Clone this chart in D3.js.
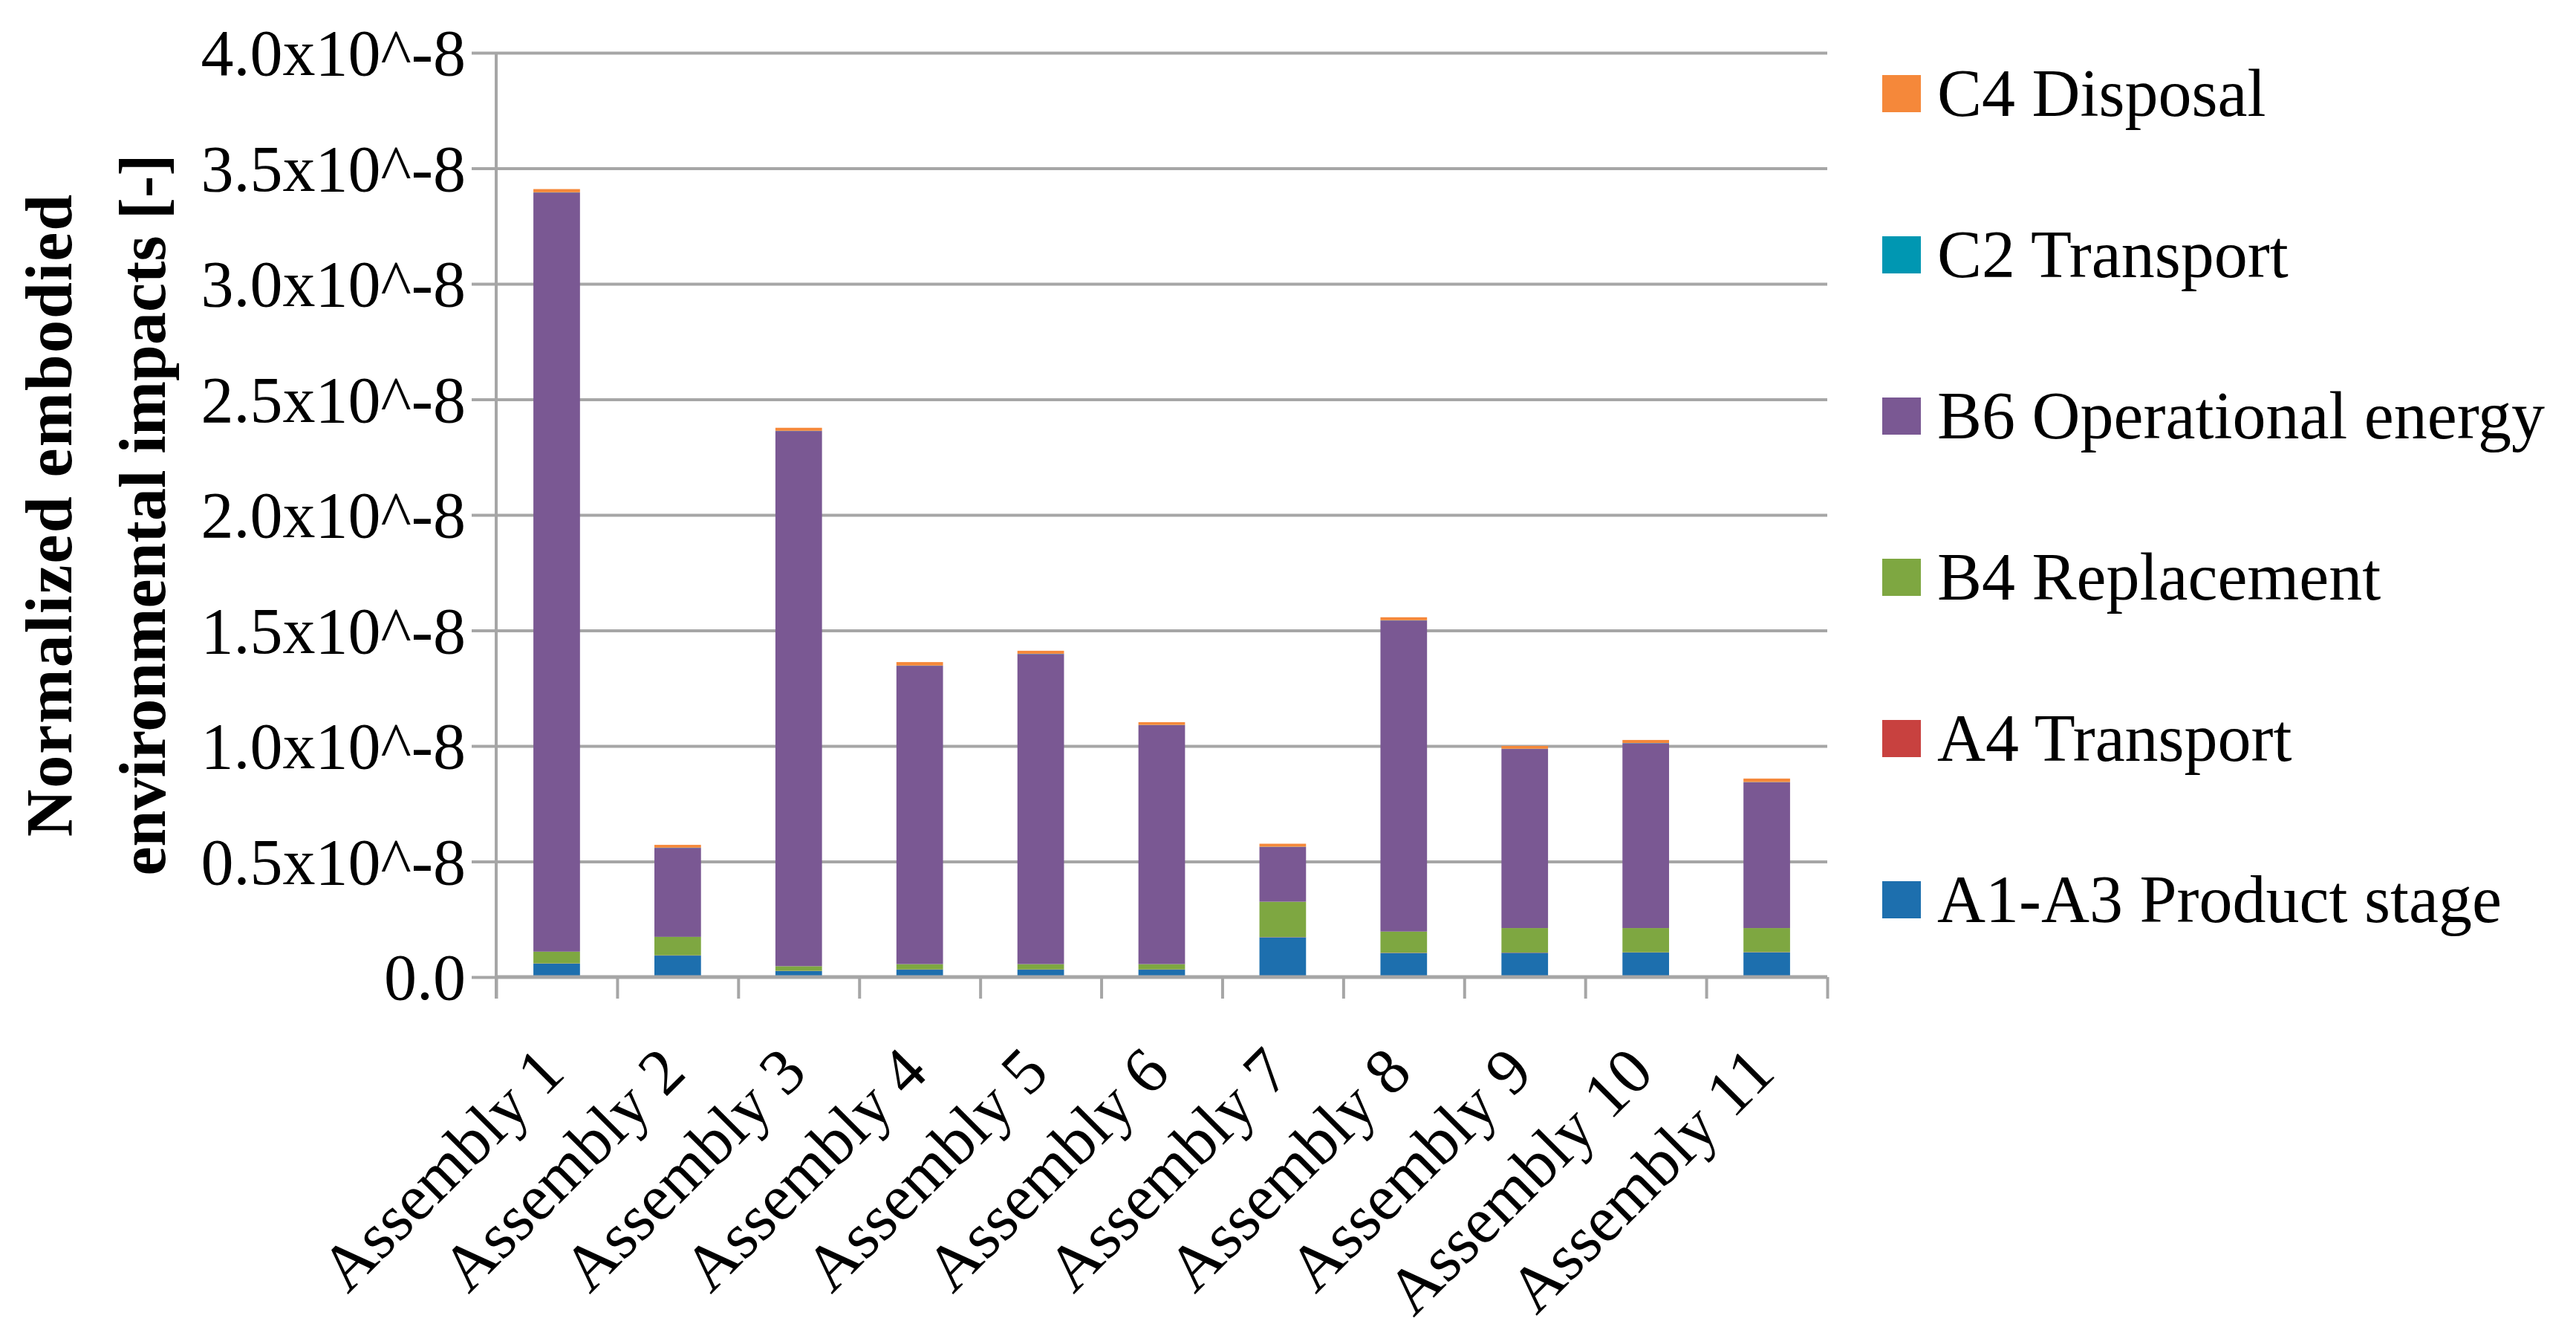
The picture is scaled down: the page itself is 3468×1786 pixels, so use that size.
<!DOCTYPE html>
<html>
<head>
<meta charset="utf-8">
<script src="https://cdn.jsdelivr.net/npm/d3@7"></script>
<style>
  html, body { margin: 0; padding: 0; background: #fff; }
  svg { display: block; }
</style>
</head>
<body>
<svg id="chart" width="3468" height="1786"></svg>
<script>
// values are in units of 10^-8
var categories = ["Assembly 1", "Assembly 2", "Assembly 3", "Assembly 4", "Assembly 5", "Assembly 6",
                  "Assembly 7", "Assembly 8", "Assembly 9", "Assembly 10", "Assembly 11"];

var productStage   = [0.058, 0.093, 0.026, 0.032, 0.032, 0.032, 0.172, 0.104, 0.105, 0.106, 0.107];
var transportA4    = [0.001, 0.001, 0.001, 0.001, 0.001, 0.001, 0.001, 0.001, 0.001, 0.001, 0.001];
var replacement    = [0.051, 0.080, 0.020, 0.023, 0.023, 0.023, 0.153, 0.092, 0.106, 0.105, 0.104];
var operational    = [3.285, 0.385, 2.316, 1.291, 1.342, 1.034, 0.237, 1.346, 0.775, 0.800, 0.631];
var transportC2    = [0.001, 0.001, 0.001, 0.001, 0.001, 0.001, 0.001, 0.001, 0.001, 0.001, 0.001];
var disposal       = [0.014, 0.012, 0.013, 0.015, 0.013, 0.012, 0.013, 0.013, 0.012, 0.013, 0.015];

var seriesNames  = ["A1-A3 Product stage", "A4 Transport", "B4 Replacement",
                    "B6 Operational energy", "C2 Transport", "C4 Disposal"];
var seriesColors = ["#1d6fae", "#c8413f", "#7ea741", "#7a5893", "#0097b2", "#f5883a"];

var yTicks      = [0, 0.5, 1, 1.5, 2, 2.5, 3, 3.5, 4];
var yTickLabels = ["0.0", "0.5x10^-8", "1.0x10^-8", "1.5x10^-8", "2.0x10^-8",
                   "2.5x10^-8", "3.0x10^-8", "3.5x10^-8", "4.0x10^-8"];

var yTitle = ["Normalized embodied", "environmental impacts [-]"];

// build rows for d3.stack
var seriesData = [productStage, transportA4, replacement, operational, transportC2, disposal];
var rows = categories.map(function(c, i) {
	var r = { name: c };
	seriesNames.forEach(function(s, j) { r[s] = seriesData[j][i]; });
	return r;
});

var plotLeft = 668, plotRight = 2460, plotTop = 71, plotBottom = 1315;
var gridColor = "#a6a6a6";
var serif = "'Liberation Serif', Tinos, 'Times New Roman', serif";

var svg = d3.select("#chart").style("font-family", serif);

var x = d3.scaleBand()
	.domain(categories)
	.range([plotLeft, plotRight])
	.paddingInner(0.615)
	.paddingOuter(0.3075);

var y = d3.scaleLinear()
	.domain([0, 4])
	.range([plotBottom, plotTop]);

var color = d3.scaleOrdinal().domain(seriesNames).range(seriesColors);

// gridlines
svg.append("g")
	.attr("class", "grid")
	.attr("transform", "translate(" + plotLeft + ",0)")
	.call(d3.axisLeft(y).tickValues(yTicks.slice(1)).tickSize(-(plotRight - plotLeft)).tickFormat(""))
	.call(function(g) {
		g.select(".domain").remove();
		g.selectAll("line").attr("stroke", gridColor).attr("stroke-width", 4);
	});

// stacked bars
var stack = d3.stack().keys(seriesNames);
var layers = stack(rows);

svg.append("g")
	.selectAll("g")
	.data(layers)
	.enter()
	.append("g")
	.attr("fill", function(d) { return color(d.key); })
	.selectAll("rect")
	.data(function(d) { return d; })
	.enter()
	.append("rect")
	.attr("x", function(d) { return x(d.data.name); })
	.attr("y", function(d) { return y(d[1]); })
	.attr("width", x.bandwidth())
	.attr("height", function(d) { return y(d[0]) - y(d[1]); });

// y axis
svg.append("g")
	.attr("class", "y-axis")
	.attr("transform", "translate(" + plotLeft + ",0)")
	.call(d3.axisLeft(y).tickValues(yTicks).tickSize(33).tickPadding(8)
		.tickFormat(function(d, i) { return yTickLabels[i]; }))
	.call(function(g) {
		g.attr("font-family", null).attr("font-size", null);
		g.select(".domain").attr("stroke", gridColor).attr("stroke-width", 4)
			.attr("d", "M0," + plotTop + "V" + (plotBottom + 29));
		g.selectAll("line").attr("stroke", gridColor).attr("stroke-width", 4);
		g.selectAll("text")
			.attr("dy", "0.34em")
			.attr("fill", "#000")
			.style("font-family", serif)
			.style("font-size", "88px");
	});

// x axis: boundary ticks
var bounds = d3.scaleLinear().domain([0, categories.length]).range([plotLeft, plotRight]);
svg.append("g")
	.attr("transform", "translate(0," + plotBottom + ")")
	.call(d3.axisBottom(bounds).ticks(categories.length).tickSize(29).tickFormat(""))
	.call(function(g) {
		g.select(".domain").attr("stroke", gridColor).attr("stroke-width", 5)
			.attr("d", "M" + plotLeft + ",0H" + plotRight);
		g.selectAll("line").attr("stroke", gridColor).attr("stroke-width", 4);
	});

// x labels
svg.append("g")
	.attr("transform", "translate(0," + plotBottom + ")")
	.call(d3.axisBottom(x).tickSize(0))
	.call(function(g) {
		g.attr("font-family", null).attr("font-size", null);
		g.select(".domain").remove();
		g.selectAll("text")
			.attr("x", 0).attr("y", 0).attr("dy", 0)
			.attr("text-anchor", "end")
			.attr("fill", "#000")
			.attr("transform", "translate(14,132) rotate(-45)")
			.style("font-family", serif)
			.style("font-size", "88px");
	});

// y title
var cy = (plotTop + plotBottom) / 2;
svg.append("g")
	.selectAll("text")
	.data(yTitle)
	.enter()
	.append("text")
	.attr("transform", function(d, i) { return "translate(" + (96 + i * 126) + "," + cy + ") rotate(-90)"; })
	.attr("text-anchor", "middle")
	.attr("letter-spacing", function(d, i) { return i === 0 ? 2 : 0; })
	.style("font-family", serif)
	.style("font-size", "88px")
	.style("font-weight", "bold")
	.text(function(d) { return d; });

// legend (top to bottom: reverse stack order)
var legendItems = seriesNames.slice().reverse();
var legendY = d3.scalePoint().domain(legendItems).range([126, 1211]);

var legend = svg.append("g")
	.selectAll("g")
	.data(legendItems)
	.enter()
	.append("g")
	.attr("transform", function(d) { return "translate(2534," + legendY(d) + ")"; });

legend.append("rect")
	.attr("x", 0).attr("y", -25)
	.attr("width", 52).attr("height", 50)
	.attr("fill", function(d) { return color(d); });

legend.append("text")
	.attr("x", 74)
	.attr("dy", "0.33em")
	.style("font-family", serif)
	.style("font-size", "90px")
	.text(function(d) { return d; });
</script>
</body>
</html>
